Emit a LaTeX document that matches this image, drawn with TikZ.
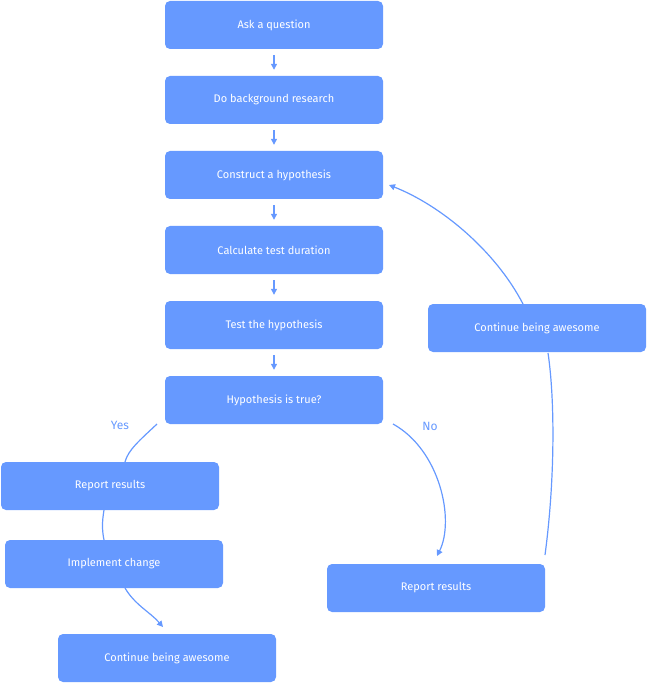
\documentclass[tikz,border=0pt]{standalone}
\usepackage{fontspec}
\setmainfont{Fira Sans}
\usetikzlibrary{arrows.meta}
\definecolor{bx}{HTML}{6699FF}
\begin{document}
\begin{tikzpicture}[x=1pt,y=-1pt,
  box/.style={fill=bx,rounded corners=5pt,minimum width=218pt,minimum height=48pt,text=white,font=\fontsize{11}{13}\selectfont,inner sep=0pt},
  con/.style={draw=bx,line width=1.2pt},
  arr/.style={con,-{Triangle[length=6pt,width=6pt]}},
  lbl/.style={text=bx,font=\fontsize{12}{14}\selectfont}]
\useasboundingbox (0,0) rectangle (648,684);
\node[box] (a) at (274,25) {Ask a question};
\node[box] (b) at (274,100) {Do background research};
\node[box] (c) at (274,175) {Construct a hypothesis};
\node[box] (d) at (274,250) {Calculate test duration};
\node[box] (e) at (274,325) {Test the hypothesis};
\node[box] (f) at (274,400) {Hypothesis is true?};
\node[box] (g) at (110,486) {Report results};
\node[box] (h) at (114,564) {Implement change};
\node[box] (i) at (167,658) {Continue being awesome};
\node[box] (j) at (436,588) {Report results};
\node[box] (k) at (537,328) {Continue being awesome};
\foreach \p/\q in {a/b,b/c,c/d,d/e,e/f}
  \draw[arr] ([yshift=-6pt]\p.south) -- ([yshift=6pt]\q.north);
\node[lbl] (yes) at (120,425) {Yes};
\node[lbl] (no) at (430,426) {No};
\coordinate (y0) at (157,424);
\coordinate (y1) at (125,462);
\draw[con] (y0) .. controls (140,440) and (128,450) .. (y1);
\coordinate (r0) at (104,510);
\coordinate (r1) at (104,540);
\draw[con] (r0) .. controls (102,522) and (102,530) .. (r1);
\coordinate (m0) at (125,588);
\coordinate (m1) at (163,627);
\draw[arr] (m0) .. controls (135,605) and (150,612) .. (m1);
\coordinate (n0) at (393,424);
\coordinate (n1) at (437,556);
\draw[arr] (n0) .. controls (440,450) and (455,520) .. (n1);
\coordinate (q0) at (545,555);
\coordinate (q1) at (548,353);
\draw[con] (q0) .. controls (555,480) and (555,400) .. (q1);
\coordinate (k0) at (523,304);
\coordinate (k1) at (389,185);
\draw[arr] (k0) .. controls (495,250) and (440,205) .. (k1);
\end{tikzpicture}
\end{document}
